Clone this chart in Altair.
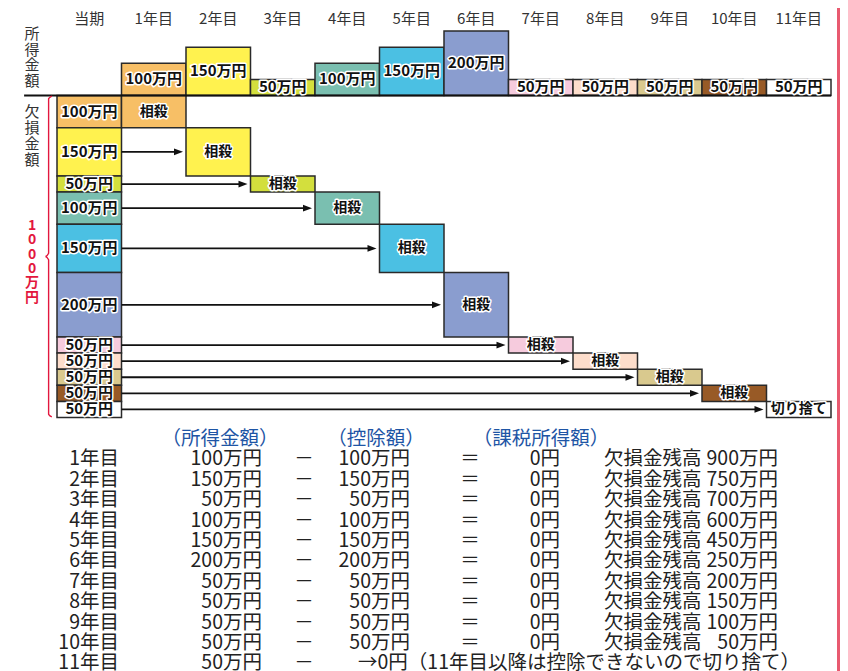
import altair as alt
import pandas as pd

# ---------------- data ----------------
columns = ["当期", "1年目", "2年目", "3年目", "4年目", "5年目", "6年目",
           "7年目", "8年目", "9年目", "10年目", "11年目"]
income = [100, 150, 50, 100, 150, 200, 50, 50, 50, 50, 50]          # 1年目..11年目
losses = [100, 150, 50, 100, 150, 200, 50, 50, 50, 50, 50]          # 欠損金の内訳
block_colors = ["#F7BF66", "#FFF24F", "#D3DF3D", "#7ABFB0", "#4BC0E3", "#8A9DCF",
                "#F6CBDD", "#FDDDCB", "#D9C98E", "#985A26", "#FFFFFF"]
offset_labels = ["相殺"] * 10 + ["切り捨て"]

table_years = ["1年目", "2年目", "3年目", "4年目", "5年目", "6年目",
               "7年目", "8年目", "9年目", "10年目", "11年目"]
table_income = [100, 150, 50, 100, 150, 200, 50, 50, 50, 50, 50]
table_deduction = [100, 150, 50, 100, 150, 200, 50, 50, 50, 50]
table_remaining = [900, 750, 700, 600, 450, 250, 200, 150, 100, 50]
last_note = "→0円（11年目以降は控除できないので切り捨て）"
table_headers = ["（所得金額）", "（控除額）", "（課税所得額）"]

# ---------------- layout ----------------
W, H = 832, 663
X_ORIGIN, COL_W = 49.0, 64.5          # px of column 0 left edge, column width
Y_ORIGIN, PX_PER = 87.5, 0.322        # px of baseline, px per 万円
T_ORIGIN, T_STEP = 431.0, 20.4        # table row 0 center, row step

FONT = "Noto Sans CJK JP"
xdom = [-X_ORIGIN / COL_W, (W - X_ORIGIN) / COL_W]
ydom = [-Y_ORIGIN / PX_PER, (H - Y_ORIGIN) / PX_PER]
tdom = [-T_ORIGIN / T_STEP, (H - T_ORIGIN) / T_STEP]


def X(f):
    return alt.X(f, type="quantitative", scale=alt.Scale(domain=xdom, nice=False, zero=False), axis=None)


def X2(f):
    return alt.X2(f)


def Y(f):
    return alt.Y(f, type="quantitative", scale=alt.Scale(domain=ydom, nice=False, zero=False, reverse=True), axis=None)


def TY(f):
    return alt.Y(f, type="quantitative", scale=alt.Scale(domain=tdom, nice=False, zero=False, reverse=True), axis=None)


# top income bars
top_df = pd.DataFrame({
    "c": list(range(1, len(income) + 1)),
    "amount": income,
    "color": block_colors,
})
top_df["c1"] = top_df["c"] + 1
top_df["cm"] = top_df["c"] + 0.5
top_df["top"] = -top_df["amount"]
top_df["zero"] = 0
top_df["mid"] = -top_df["amount"] / 2
top_df["label"] = top_df["amount"].astype(str) + "万円"

# loss column
cum = []
s = 0
for v in losses:
    cum.append(s)
    s += v
total = s
loss_df = pd.DataFrame({
    "k": list(range(1, len(losses) + 1)),
    "amount": losses,
    "y0": cum,
    "color": block_colors,
    "offset_label": offset_labels,
})
loss_df["y1"] = loss_df["y0"] + loss_df["amount"]
loss_df["mid"] = (loss_df["y0"] + loss_df["y1"]) / 2
loss_df["c0"] = 0
loss_df["c1"] = 1
loss_df["cm0"] = 0.5
loss_df["k1"] = loss_df["k"] + 1
loss_df["km"] = loss_df["k"] + 0.5
loss_df["label"] = loss_df["amount"].astype(str) + "万円"
off_df = loss_df.copy()
off_df.loc[off_df["k"] == len(losses), "color"] = "#FFFFFF"
arrow_df = loss_df[loss_df["k"] >= 2].copy()
arrow_df["start"] = 1

header_df = pd.DataFrame({"name": columns, "cm": [i + 0.5 for i in range(len(columns))]})

box_stroke = dict(stroke="#2A2A2A", strokeWidth=1.5)

top_bars = alt.Chart(top_df).mark_rect(**box_stroke).encode(
    x=X("c"), x2=X2("c1"), y=Y("top"), y2=alt.Y2("zero"),
    color=alt.Color("color:N", scale=None))
loss_bars = alt.Chart(loss_df).mark_rect(**box_stroke).encode(
    x=X("c0"), x2=X2("c1"), y=Y("y0"), y2=alt.Y2("y1"),
    color=alt.Color("color:N", scale=None))
off_bars = alt.Chart(off_df).mark_rect(**box_stroke).encode(
    x=X("k"), x2=X2("k1"), y=Y("y0"), y2=alt.Y2("y1"),
    color=alt.Color("color:N", scale=None))

base_df = pd.DataFrame({"a": [-0.51], "b": [12.0], "y": [0]})
baseline = alt.Chart(base_df).mark_rule(color="#111", strokeWidth=2.2).encode(
    x=X("a"), x2=X2("b"), y=Y("y"))

arrows = alt.Chart(arrow_df).mark_rule(color="#111", strokeWidth=1.8, x2Offset=-8).encode(
    x=X("start"), x2=X2("k"), y=Y("mid"))
heads = alt.Chart(arrow_df).mark_point(
    shape="M-1,-0.75L1,0L-1,0.75Z", size=81, filled=True, color="#111", opacity=1, xOffset=-7.5
).encode(x=X("k"), y=Y("mid"))


def halo_text(df, xf, yf, textf, size):
    common = dict(font=FONT, fontSize=size, fontWeight="bold", align="center", baseline="middle")
    halo = alt.Chart(df).mark_text(fill="white", stroke="white", strokeWidth=3,
                                   strokeJoin="round", **common).encode(
        x=X(xf), y=Y(yf), text=alt.Text(textf + ":N"))
    main = alt.Chart(df).mark_text(fill="#111", **common).encode(
        x=X(xf), y=Y(yf), text=alt.Text(textf + ":N"))
    return [halo, main]


top_text = halo_text(top_df, "cm", "mid", "label", 15)
loss_text = halo_text(loss_df, "cm0", "mid", "label", 15)
off_text = halo_text(off_df, "km", "mid", "offset_label", 14)

headers = alt.Chart(header_df).mark_text(font=FONT, fontSize=15, color="#333", align="center",
                                         baseline="middle").encode(
    x=X("cm"), y=alt.value(10.5), text="name:N")


def vchars(text, px, y0, step, size, color, weight="normal"):
    df = pd.DataFrame({"ch": list(text), "y": [y0 + i * step for i in range(len(text))]})
    return alt.Chart(df).mark_text(font=FONT, fontSize=size, color=color, fontWeight=weight,
                                   align="center", baseline="middle").encode(
        x=alt.value(px), y=alt.Y("y:Q", scale=None), text="ch:N")


RED = "#E3173E"
v1 = vchars("所得金額", 24, 26, 15.7, 15, "#333")
v2 = vchars("欠損金額", 24, 104, 16.0, 15, "#333")
v3 = vchars(f"{total}万円", 24, 218, 14.3, 14, RED, "bold")

brace_df = pd.DataFrame({
    "x": [-0.08, -0.13, -0.13, -0.18, -0.13, -0.13, -0.08],
    "y": [2, 10, total / 2 - 10, total / 2, total / 2 + 10, total - 10, total - 2],
    "o": list(range(7)),
})
brace = alt.Chart(brace_df).mark_line(color=RED, strokeWidth=1.4, interpolate="monotone").encode(
    x=X("x"), y=Y("y"), order="o:Q")

# ---------------- table ----------------
rows = list(range(1, len(table_years) + 1))
tbl = pd.DataFrame({
    "row": rows,
    "year": table_years,
    "income": [f"{v}万円" for v in table_income],
    "minus": ["－"] * len(rows),
})
main = pd.DataFrame({
    "row": rows[:len(table_deduction)],
    "ded": [f"{v}万円" for v in table_deduction],
    "eq": ["＝"] * len(table_deduction),
    "zero": ["0円"] * len(table_deduction),
    "rem_label": ["欠損金残高"] * len(table_deduction),
    "rem": [f"{v}万円" for v in table_remaining],
})
note_df = pd.DataFrame({"row": [len(rows)], "t": [last_note]})
thead = pd.DataFrame({"row": [0, 0, 0], "t": table_headers, "px": [212, 368, 533]})

TCOL = "#222"
TSIZE = 19.5


def tcol(df, field, px, align):
    return alt.Chart(df).mark_text(font=FONT, fontSize=TSIZE, color=TCOL, align=align,
                                   baseline="middle").encode(
        x=alt.value(px), y=TY("row"), text=alt.Text(field + ":N"))


table_layers = [
    tcol(tbl, "year", 111, "right"),
    tcol(tbl, "income", 254, "right"),
    tcol(tbl, "minus", 296, "center"),
    tcol(main, "ded", 402, "right"),
    tcol(main, "eq", 462, "center"),
    tcol(main, "zero", 552, "right"),
    tcol(main, "rem_label", 596, "left"),
    tcol(main, "rem", 770, "right"),
    tcol(note_df, "t", 350, "left"),
]
head_layers = []
for _, r in thead.iterrows():
    head_layers.append(alt.Chart(pd.DataFrame({"row": [0], "t": [r["t"]]})).mark_text(
        font=FONT, fontSize=TSIZE, color="#1E55A5", align="center", baseline="middle").encode(
        x=alt.value(r["px"]), y=TY("row"), text="t:N"))

edge = alt.Chart(pd.DataFrame({"a": [0]})).mark_rule(color="#E85A70", strokeWidth=3).encode(
    x=alt.value(W - 1.5), y=alt.value(0), y2=alt.value(H))

layers = [top_bars, loss_bars, off_bars, baseline, arrows, heads] + top_text + loss_text + off_text + \
         [headers, v1, v2, v3, brace] + table_layers + head_layers + [edge]

chart = alt.layer(*layers).resolve_scale(y="independent", x="shared").properties(
    width=W, height=H, padding=0, autosize=alt.AutoSizeParams(type="none"), background="white"
).configure_view(stroke=None)

chart.save("out.html", embed_options={"renderer": "svg", "actions": False})
